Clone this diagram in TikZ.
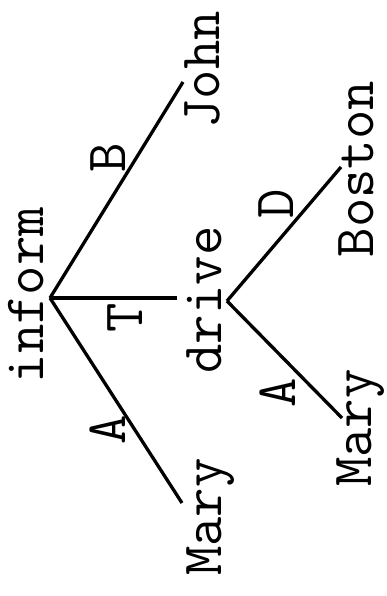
\documentclass[tikz,border=0pt]{standalone}
\usepackage{fontspec}
\begin{document}
\begin{tikzpicture}[x=1pt,y=-1pt,
  word/.style={rotate=90,anchor=base,inner sep=0pt,font=\fontsize{57}{60}\ttfamily\addfontfeature{FakeBold=1.5}},
  lbl/.style={word},
  edge/.style={line width=3.3pt}]
\useasboundingbox (0,0) rectangle (386,596);
% words
\node[word] (inform) at (43,295) {inform};
\node[word] (john) at (219,70) {John};
\node[word] (drive) at (221,300) {drive};
\node[word] (mary1) at (221,517) {Mary};
\node[word] (boston) at (373,169) {Boston};
\node[word] (mary2) at (371,428) {Mary};
% connector ends
\coordinate (r1) at (50,298);
\coordinate (jE) at (183,82);
\coordinate (dE) at (177,298);
\coordinate (m1E) at (182,503);
\coordinate (r2) at (227,301);
\coordinate (bE) at (341,167);
\coordinate (m2E) at (342,418);
% connectors
\draw[edge] (r1) -- (jE);
\draw[edge] (r1) -- (dE);
\draw[edge] (r1) -- (m1E);
\draw[edge] (r2) -- (bE);
\draw[edge] (r2) -- (m2E);
% labels
\node[lbl] (lB) at (125,158) {B};
\node[lbl] (lT) at (142,318) {T};
\node[lbl] (lA1) at (125,430) {A};
\node[lbl] (lD) at (293,204) {D};
\node[lbl] (lA2) at (295,393) {A};
\end{tikzpicture}
\end{document}
